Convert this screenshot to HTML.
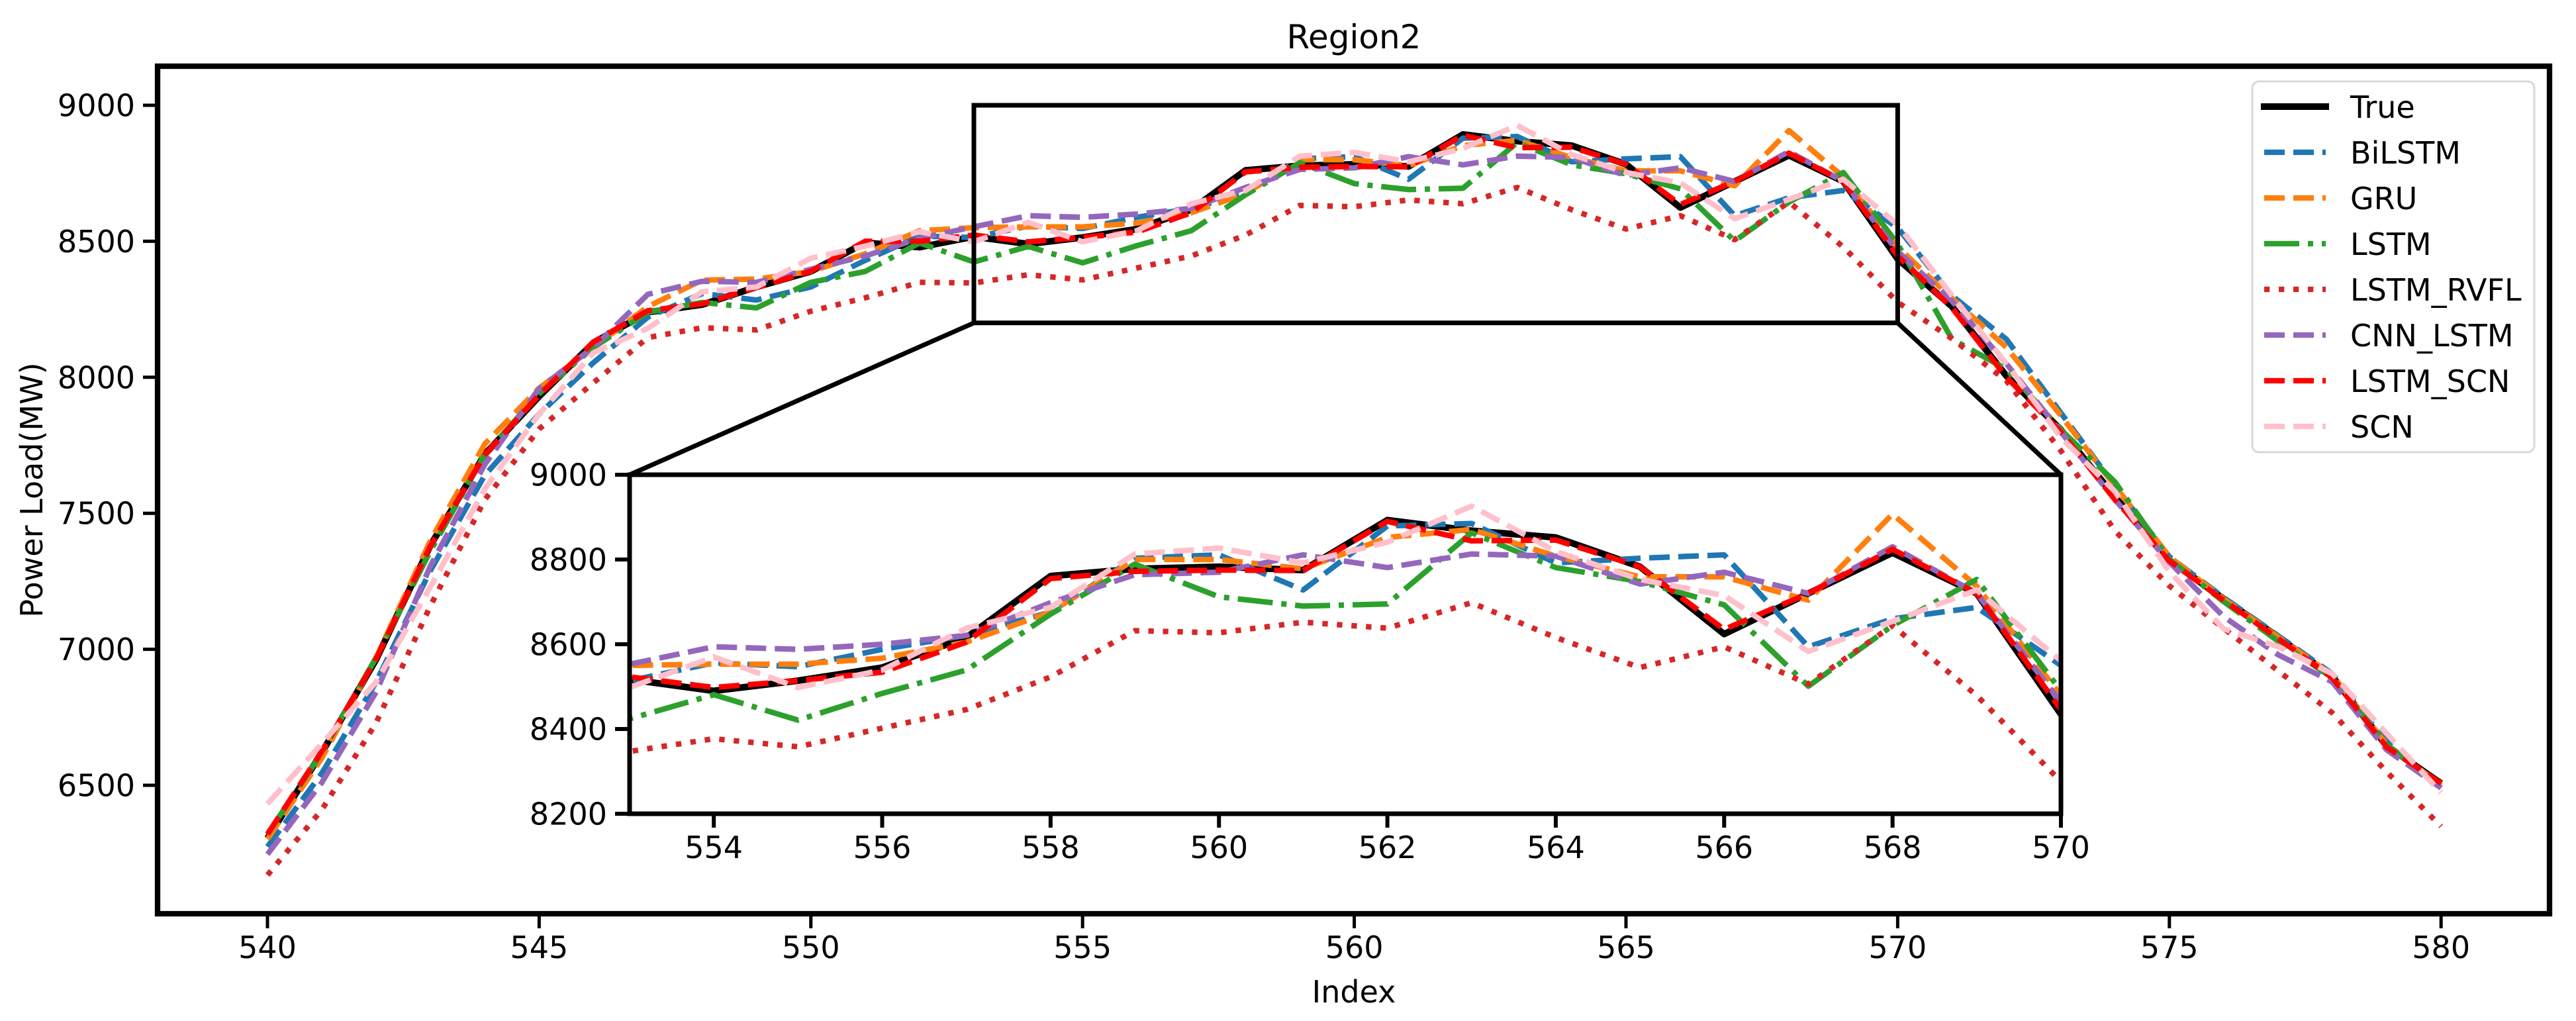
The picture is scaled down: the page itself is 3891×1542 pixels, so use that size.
<!DOCTYPE html>
<html><head><meta charset="utf-8"><style>
html,body{margin:0;padding:0;background:#fff;width:3891px;height:1542px;overflow:hidden;}
svg{display:block;font-family:"DejaVu Sans","Liberation Sans",sans-serif;}
</style></head><body>
<svg id="chart" width="3891" height="1542" viewBox="0 0 3891 1542" xmlns="http://www.w3.org/2000/svg">
<defs>
<clipPath id="clipMain"><rect x="238" y="100" width="3613" height="1280"/></clipPath>
<clipPath id="clipInset"><rect x="951" y="717" width="2162" height="512"/></clipPath>
</defs>
<rect x="0" y="0" width="3891" height="1542" fill="#fff"/>
<text x="2045" y="73" text-anchor="middle" font-size="50">Region2</text>
<g id="mainSeries" clip-path="url(#clipMain)"></g>
<g id="mainAxes"></g>
<g id="zoomRect"></g>
<rect x="951" y="717" width="2162" height="512" fill="#fff"/>
<g id="insetSeries" clip-path="url(#clipInset)"></g>
<g id="insetAxes"></g>
<text x="2045" y="1514" text-anchor="middle" font-size="46">Index</text>
<text x="0" y="0" transform="translate(64,740) rotate(-90)" text-anchor="middle" font-size="46">Power Load(MW)</text>
<g id="legend"></g>
</svg>
<script>
const indices = [];
for (let i = 540; i <= 580; i++) indices.push(i);
const seriesNames = ["True","BiLSTM","GRU","LSTM","LSTM_RVFL","CNN_LSTM","LSTM_SCN","SCN"];
const trueVals = [6305,6620,6963,7382,7717,7930,8127,8239,8267,8332,8389,8495,8478,8517,8490,8514,8545,8616,8761,8778,8783,8775,8893,8868,8852,8783,8624,8720,8816,8720,8435,8260,8005,7808,7560,7328,7185,7045,6900,6645,6507];
const bilstmVals = [6274,6544,6880,7290,7640,7865,8054,8221,8308,8284,8332,8430,8519,8514,8556,8547,8588,8621,8676,8803,8811,8728,8879,8885,8792,8803,8811,8594,8660,8687,8550,8300,8140,7870,7600,7340,7190,7050,6910,6660,6490];
const gruVals = [6302,6600,6970,7400,7755,7960,8110,8260,8357,8361,8389,8454,8539,8550,8553,8553,8567,8605,8676,8800,8800,8778,8852,8871,8808,8759,8759,8704,8907,8737,8479,8290,8110,7860,7600,7340,7185,7045,6905,6650,6500];
const lstmVals = [6320,6620,6970,7362,7717,7940,8110,8239,8275,8255,8349,8389,8494,8424,8481,8421,8484,8539,8671,8789,8712,8690,8695,8863,8781,8748,8693,8501,8644,8753,8490,8140,8030,7808,7615,7330,7175,7030,6895,6650,6490];
const rvflVals = [6170,6410,6730,7160,7550,7810,7980,8146,8182,8174,8243,8292,8349,8347,8377,8358,8402,8446,8523,8632,8627,8652,8638,8698,8616,8545,8594,8506,8644,8479,8276,8142,7987,7731,7435,7233,7077,6921,6766,6549,6349];
const cnnVals = [6246,6510,6843,7307,7680,7959,8110,8305,8353,8349,8397,8446,8511,8553,8594,8588,8600,8621,8698,8764,8770,8811,8781,8813,8808,8742,8770,8720,8830,8720,8463,8280,8050,7800,7550,7320,7120,6980,6880,6630,6490];
const lstmScnVals = [6320,6625,6965,7380,7715,7935,8130,8245,8270,8330,8390,8500,8500,8523,8498,8514,8534,8605,8755,8772,8775,8774,8890,8844,8846,8783,8635,8720,8824,8720,8446,8255,8000,7800,7550,7325,7180,7040,6895,6640,6507];
const scnVals = [6432,6653,6880,7230,7590,7865,8090,8180,8314,8332,8438,8482,8535,8498,8570,8498,8539,8638,8687,8813,8827,8792,8841,8926,8819,8753,8715,8583,8654,8728,8561,8300,8050,7780,7580,7285,7075,7010,6910,6690,6473];
const mainXTicks = [540,545,550,555,560,565,570,575,580];
const mainYTicks = [6500,7000,7500,8000,8500,9000];
const insetXTicks = [554,556,558,560,562,564,566,568,570];
const insetYTicks = [8200,8400,8600,8800,9000];
const zoomRange = [553,570,8200,9000];

const NS = "http://www.w3.org/2000/svg";
const allVals = [trueVals,bilstmVals,gruVals,lstmVals,rvflVals,cnnVals,lstmScnVals,scnVals];
const colors = ["#000000","#1f77b4","#ff7f0e","#2ca02c","#d62728","#9467bd","#ff0000","#ffc0cb"];
const dashes = ["", "31,13", "31,13", "53,13,8,13", "8.3,13.7", "31,13", "31,13", "31,13"];
const widths = [10, 8.3, 8.3, 8.3, 8.3, 8.3, 8.3, 8.3];

const mx = v => 404 + (v - 540) * 82.08;
const my = v => 159 + (9000 - v) * 0.4108;
const ix = v => 951 + (v - 553) * (2162 / 17);
const iy = v => 717 + (9000 - v) * (512 / 800);

function el(tag, attrs, parent) {
  const e = document.createElementNS(NS, tag);
  for (const k in attrs) e.setAttribute(k, attrs[k]);
  parent.appendChild(e);
  return e;
}
function slug(s){return s.toLowerCase().replace(/_/g,'-');}

const mainG = document.getElementById('mainSeries');
const insetG = document.getElementById('insetSeries');
allVals.forEach((vals, s) => {
  const ptsM = indices.map((x, k) => mx(x).toFixed(1) + ',' + my(vals[k]).toFixed(1)).join(' ');
  const pm = el('polyline', {points: ptsM, fill: 'none', stroke: colors[s], 'stroke-width': widths[s], 'stroke-linejoin': 'round'}, mainG);
  if (dashes[s]) pm.setAttribute('stroke-dasharray', dashes[s]);
  
  
  const ptsI = indices.map((x, k) => [x, vals[k]])
    .filter(p => p[0] >= zoomRange[0] - 1 && p[0] <= zoomRange[1] + 1)
    .map(p => ix(p[0]).toFixed(1) + ',' + iy(p[1]).toFixed(1)).join(' ');
  const pi = el('polyline', {points: ptsI, fill: 'none', stroke: colors[s], 'stroke-width': widths[s], 'stroke-linejoin': 'round'}, insetG);
  if (dashes[s]) pi.setAttribute('stroke-dasharray', dashes[s]);
  
  
});

const ax = document.getElementById('mainAxes');
const frame = el('rect', {x: 238, y: 100, width: 3613, height: 1280, fill: 'none', stroke: '#000', 'stroke-width': 8.3}, ax);


mainXTicks.forEach(t => {
  const x = mx(t);
  const tk = el('line', {x1: x, y1: 1380, x2: x, y2: 1402, stroke: '#000', 'stroke-width': 5}, ax);
  
  
  const tx = el('text', {x: x, y: 1447, 'text-anchor': 'middle', 'font-size': 46}, ax);
  tx.textContent = t;
  
  
});
mainYTicks.forEach(t => {
  const y = my(t);
  const tk = el('line', {x1: 216, y1: y, x2: 238, y2: y, stroke: '#000', 'stroke-width': 5}, ax);
  
  
  const tx = el('text', {x: 204, y: y + 16.5, 'text-anchor': 'end', 'font-size': 46}, ax);
  tx.textContent = t;
  
  
});

const zr = document.getElementById('zoomRect');
const rx1 = mx(zoomRange[0]), rx2 = mx(zoomRange[1]), ry1 = my(zoomRange[3]), ry2 = my(zoomRange[2]);
const zrect = el('rect', {x: rx1, y: ry1, width: rx2 - rx1, height: ry2 - ry1, fill: 'none', stroke: '#000', 'stroke-width': 7}, zr);


const c1 = el('line', {x1: rx1, y1: ry2, x2: 951, y2: 717, stroke: '#000', 'stroke-width': 7}, zr);


const c2 = el('line', {x1: rx2, y1: ry2, x2: 3113, y2: 717, stroke: '#000', 'stroke-width': 7}, zr);



const ia = document.getElementById('insetAxes');
const iframe = el('rect', {x: 951, y: 717, width: 2162, height: 512, fill: 'none', stroke: '#000', 'stroke-width': 7}, ia);


insetXTicks.forEach(t => {
  const x = ix(t);
  const tk = el('line', {x1: x, y1: 1229, x2: x, y2: 1250, stroke: '#000', 'stroke-width': 6}, ia);
  
  
  const tx = el('text', {x: x, y: 1296, 'text-anchor': 'middle', 'font-size': 46}, ia);
  tx.textContent = t;
  
  
});
insetYTicks.forEach(t => {
  const y = iy(t);
  const tk = el('line', {x1: 929, y1: y, x2: 951, y2: y, stroke: '#000', 'stroke-width': 6}, ia);
  
  
  const tx = el('text', {x: 917, y: y + 16.5, 'text-anchor': 'end', 'font-size': 46}, ia);
  tx.textContent = t;
  
  
});

const lg = document.getElementById('legend');
const lbox = el('rect', {x: 3402, y: 123, width: 426, height: 560, rx: 10, ry: 10, fill: '#fff', 'fill-opacity': 0.8, stroke: '#d8d8d8', 'stroke-width': 3}, lg);


seriesNames.forEach((n, s) => {
  const base = 178 + s * 69;
  const ly = base - 17;
  const ln = el('line', {x1: s === 0 ? 3415 : 3420, y1: ly, x2: s === 0 ? 3518 : 3513, y2: ly, stroke: colors[s], 'stroke-width': widths[s]}, lg);
  if (dashes[s]) ln.setAttribute('stroke-dasharray', dashes[s]);
  
  
  const tx = el('text', {x: 3550, y: base, 'font-size': 46}, lg);
  tx.textContent = n;
  
  
});
</script>
</body></html>
